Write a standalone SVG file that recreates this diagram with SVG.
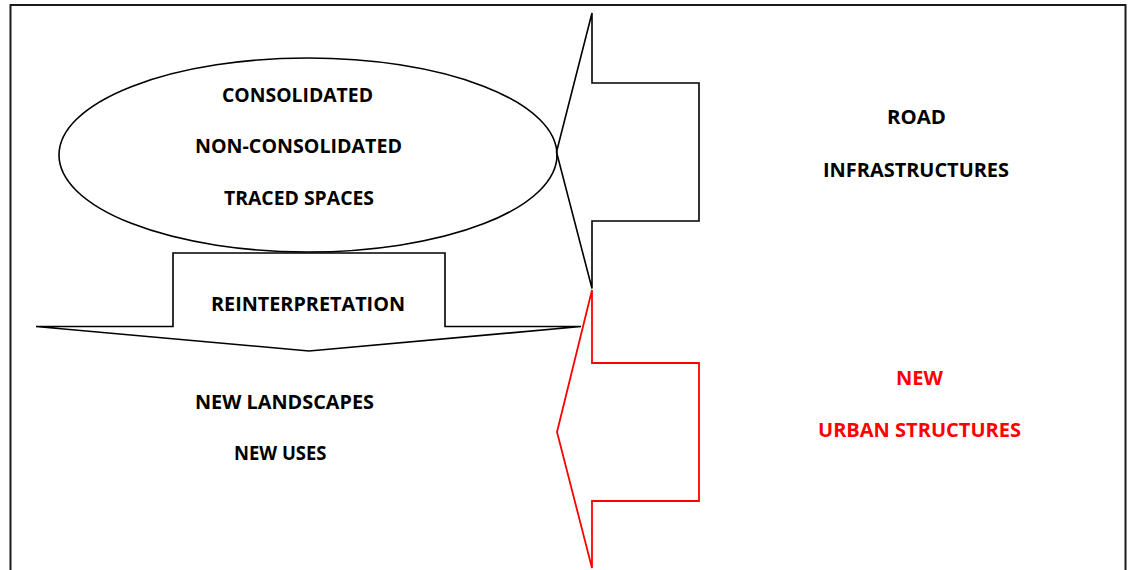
<svg xmlns="http://www.w3.org/2000/svg" width="1128" height="570" viewBox="0 0 1128 570">
  <style>
    .shape { fill: none; stroke: #000; stroke-width: 1.6; stroke-linejoin: miter; }
    .red { stroke: #ff0000; stroke-width: 1.8; }
    .label { font-family: "Open Sans", Lato, "Liberation Sans", sans-serif; font-weight: bold; font-size: 20px; fill: #000; }
    .label.hot { fill: #ff0000; }
  </style>
  <rect width="1128" height="570" fill="#fff"/>
  <!-- outer frame, open at the bottom edge of the view -->
  <rect id="frame" x="10.5" y="5" width="1115" height="590" fill="none" stroke="#1a1a1a" stroke-width="2"/>

  <g id="spaces">
    <ellipse class="shape" cx="308" cy="155" rx="249" ry="97"/>
    <text class="label" x="222" y="101.5" textLength="151" lengthAdjust="spacingAndGlyphs">CONSOLIDATED</text>
    <text class="label" x="195" y="153" textLength="207" lengthAdjust="spacingAndGlyphs">NON-CONSOLIDATED</text>
    <text class="label" x="224" y="204.5" textLength="150" lengthAdjust="spacingAndGlyphs">TRACED SPACES</text>
  </g>

  <g id="reinterpretation">
    <polygon class="shape" points="173,253 445,253 445,326.5 581,326.5 309,351 36,326.5 173,326.5"/>
    <text class="label" x="211" y="310.5" textLength="194" lengthAdjust="spacingAndGlyphs">REINTERPRETATION</text>
  </g>

  <g id="new-landscapes">
    <text class="label" x="195" y="408.5" textLength="179" lengthAdjust="spacingAndGlyphs">NEW LANDSCAPES</text>
    <text class="label" x="234" y="459.5" textLength="92.5" lengthAdjust="spacingAndGlyphs">NEW USES</text>
  </g>

  <g id="road-infrastructures">
    <polygon class="shape" points="592,13 592,83 699,83 699,221 592,221 592,288.5 556.5,152"/>
    <text class="label" x="887" y="124" textLength="59" lengthAdjust="spacingAndGlyphs">ROAD</text>
    <text class="label" x="823" y="177" textLength="186" lengthAdjust="spacingAndGlyphs">INFRASTRUCTURES</text>
  </g>

  <g id="new-urban-structures">
    <polygon class="shape red" points="592,290 592,363 699,363 699,501 592,501 592,568 557,432"/>
    <text class="label hot" x="896" y="384.5" textLength="47" lengthAdjust="spacingAndGlyphs">NEW</text>
    <text class="label hot" x="818" y="436.5" textLength="203" lengthAdjust="spacingAndGlyphs">URBAN STRUCTURES</text>
  </g>

  <g id="connectors"/>
</svg>
